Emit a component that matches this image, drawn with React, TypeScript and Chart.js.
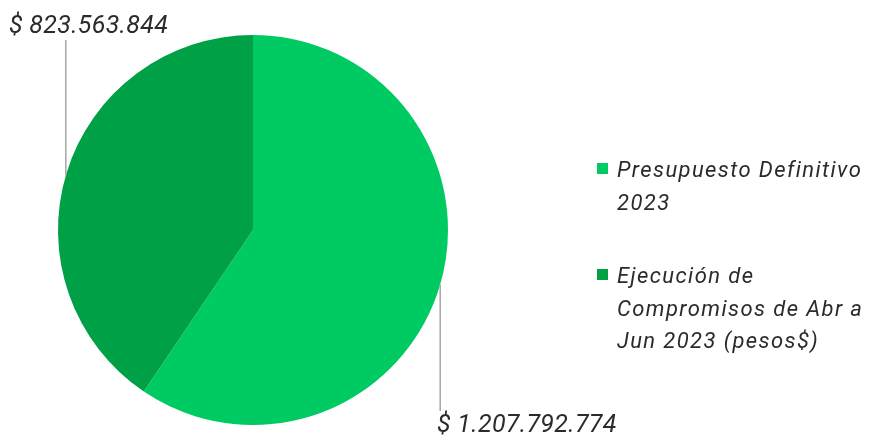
import React, { useEffect, useRef } from "react";
import { Chart, registerables } from "chart.js";

Chart.register(...registerables);

const categories: string[][] = [
  ["Presupuesto Definitivo", "2023"],
  ["Ejecución de", "Compromisos de Abr a", "Jun 2023 (pesos$)"],
];
const values: number[] = [1207792774, 823563844];
const valueLabels: string[] = ["$ 1.207.792.774", "$ 823.563.844"];
const colors: string[] = ["#00CB63", "#00A047"];

const TEXT = "#2b2b2b";
const FONT = "Roboto, 'Noto Sans', sans-serif";

const overlayPlugin = {
  id: "overlay",
  afterDraw(chart: any) {
    const ctx = chart.ctx;
    const meta = chart.getDatasetMeta(0);
    const a0 = meta.data[0];
    const cx = a0.x;
    const cy = a0.y;
    const r = a0.outerRadius;
    const off = r * 0.96;
    const dy = Math.sqrt(r * r - off * off);
    ctx.save();
    ctx.strokeStyle = "#a6a6a6";
    ctx.lineWidth = 1.5;
    ctx.beginPath();
    ctx.moveTo(cx - off, cy - dy);
    ctx.lineTo(cx - off, 40);
    ctx.stroke();
    ctx.beginPath();
    ctx.moveTo(cx + off, cy + dy);
    ctx.lineTo(cx + off, 411);
    ctx.stroke();

    ctx.fillStyle = TEXT;
    ctx.textBaseline = "alphabetic";
    ctx.textAlign = "left";
    ctx.font = `italic 25px ${FONT}`;
    (ctx as any).letterSpacing = "0.3px";
    ctx.fillText(valueLabels[1], 9, 33);
    ctx.fillText(valueLabels[0], 437, 432);

    ctx.font = `italic 22px ${FONT}`;
    (ctx as any).letterSpacing = "1.4px";
    const legendX = 597;
    const textX = 617;
    const baselines = [177, 283];
    const lh = 32.5;
    categories.forEach((lines, i) => {
      ctx.fillStyle = colors[i];
      ctx.fillRect(legendX, baselines[i] - 14, 11, 11);
      ctx.fillStyle = TEXT;
      lines.forEach((t, j) => {
        ctx.fillText(t, textX, baselines[i] + j * lh);
      });
    });
    (ctx as any).letterSpacing = "0px";
    ctx.restore();
  },
};

export default function App() {
  const ref = useRef<HTMLCanvasElement | null>(null);
  useEffect(() => {
    document.body.style.margin = "0";
    const chart = new Chart(ref.current as HTMLCanvasElement, {
      type: "pie",
      data: {
        labels: categories.map((c) => c.join(" ")),
        datasets: [
          {
            data: values,
            backgroundColor: colors,
            borderWidth: 0,
          },
        ],
      },
      options: {
        animation: false,
        responsive: false,
        events: [],
        layout: { padding: { left: 58, right: 427, top: 35, bottom: 11 } },
        plugins: {
          legend: { display: false },
          tooltip: { enabled: false },
        },
      },
      plugins: [overlayPlugin],
    });
    return () => chart.destroy();
  }, []);
  return (
    <div style={{ position: "fixed", left: 0, top: 0, width: 875, height: 436, background: "#fff" }}>
      <canvas ref={ref} width={875} height={436} style={{ width: 875, height: 436 }} />
    </div>
  );
}
